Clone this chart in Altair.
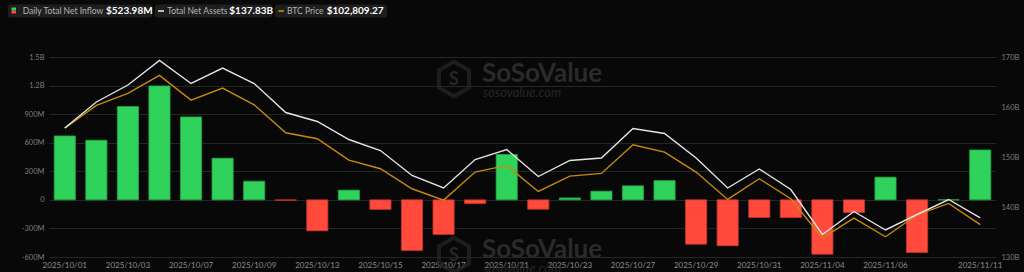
import altair as alt
import pandas as pd

dates = ["2025/10/01", "2025/10/02", "2025/10/03", "2025/10/06", "2025/10/07", "2025/10/08",
         "2025/10/09", "2025/10/10", "2025/10/13", "2025/10/14", "2025/10/15", "2025/10/16",
         "2025/10/17", "2025/10/20", "2025/10/21", "2025/10/22", "2025/10/23", "2025/10/24",
         "2025/10/27", "2025/10/28", "2025/10/29", "2025/10/30", "2025/10/31", "2025/11/03",
         "2025/11/04", "2025/11/05", "2025/11/06", "2025/11/07", "2025/11/10", "2025/11/11"]
inflow_m = [671, 626, 980, 1196, 871, 437, 196, -4.5, -325, 102, -100, -531, -363, -39, 476,
            -98, 20, 91, 147, 202, -465, -482, -185, -186, -570, -133, 238, -552, 1.15, 523.98]
assets_b = [155.8, 161.0, 164.4, 169.3, 164.7, 167.8, 164.7, 158.9, 157.1, 153.5, 151.3, 146.3,
            143.8, 149.5, 151.5, 146.1, 149.3, 149.8, 155.7, 154.7, 149.8, 143.8, 147.6, 143.5,
            134.5, 139.1, 135.4, 138.5, 141.5, 137.83]
btc_price = [117300, 120700, 122500, 125200, 121500, 123300, 120800, 116600, 115700, 112500,
             111200, 108200, 106500, 110700, 111700, 107800, 110100, 110500, 114800, 113700,
             110700, 106600, 109700, 106700, 100800, 103800, 101000, 104300, 106000, 102809.27]
label_dates = ["2025/10/01", "2025/10/03", "2025/10/07", "2025/10/09", "2025/10/13", "2025/10/15",
               "2025/10/17", "2025/10/21", "2025/10/23", "2025/10/27", "2025/10/29", "2025/10/31",
               "2025/11/04", "2025/11/06", "2025/11/11"]
left_ticks = [-600e6, -300e6, 0, 300e6, 600e6, 900e6, 1200e6, 1500e6]
right_ticks = [130, 140, 150, 160, 170]

legend_labels = ["Daily Total Net Inflow", "Total Net Assets", "BTC Price"]
legend_values = ["$523.98M", "$137.83B", "$102,809.27"]

df = pd.DataFrame({
    "date": dates,
    "inflow": [v * 1e6 for v in inflow_m],
    "assets": assets_b,
    "btc": btc_price,
})
one = pd.DataFrame({"k": [0]})

FONT = "Lato"
AX_COL = "#7c7c7c"

base = alt.Chart(df)

x_main = alt.X(
    "date:O", sort=dates, title=None,
    scale=alt.Scale(paddingInner=0.33, paddingOuter=0.165),
    axis=alt.Axis(values=label_dates, labelAngle=0, labelColor="#8c8c8c", labelFontSize=8,
                  labelFont=FONT, ticks=False, domain=False, grid=False, labelPadding=4,
                  labelOverlap=False),
)

left_expr = ("abs(datum.value) >= 1e9 ? format(datum.value/1e9, '.1f') + 'B' : "
             "datum.value == 0 ? '0' : (datum.value < 0 ? '-' : '') + "
             "format(abs(datum.value)/1e6, 'd') + 'M'")

bars = base.mark_bar(strokeWidth=0.8).encode(
    x=x_main,
    y=alt.Y("inflow:Q", title=None,
            scale=alt.Scale(domain=[-600e6, 1500e6], nice=False, zero=False),
            axis=alt.Axis(orient="left", values=left_ticks, labelExpr=left_expr, grid=True,
                          gridColor="#252525", gridWidth=1, domain=False, ticks=False,
                          labelColor=AX_COL, labelFontSize=7.5, labelFont=FONT, labelPadding=5)),
    color=alt.condition("datum.inflow >= 0", alt.value("#2fd25b"), alt.value("#ff4a3c")),
    stroke=alt.condition("datum.inflow >= 0", alt.value("#25a648"), alt.value("#c8352c")),
)

btc_line = base.mark_line(color="#c98a0c", strokeWidth=1.4).encode(
    x=x_main,
    y=alt.Y("btc:Q", title=None,
            scale=alt.Scale(domain=[97964, 127964], nice=False, zero=False), axis=None),
)

assets_line = base.mark_line(color="#e4e4e4", strokeWidth=1.4).encode(
    x=x_main,
    y=alt.Y("assets:Q", title=None,
            scale=alt.Scale(domain=[130, 170], nice=False, zero=False),
            axis=alt.Axis(orient="right", values=right_ticks, labelExpr="datum.value + 'B'",
                          grid=False, domain=False, ticks=False, labelColor=AX_COL,
                          labelFontSize=7.5, labelFont=FONT, labelPadding=5)),
)

hexpath = "M0,-1L0.866,-0.5L0.866,0.5L0,1L-0.866,0.5L-0.866,-0.5Z"


def watermark(dy):
    c = alt.Chart(one)
    hexm = c.mark_point(shape=hexpath, filled=False, stroke="#262626", strokeWidth=4,
                        size=1200).encode(x=alt.value(405), y=alt.value(22 + dy))
    s = c.mark_text(text="S", font=FONT, fontWeight="bold", fontSize=18, color="#262626",
                    baseline="middle", align="center").encode(x=alt.value(405), y=alt.value(23 + dy))
    t1 = c.mark_text(text="SoSoValue", font=FONT, fontWeight="bold", fontSize=26,
                     color="#2a2a2a", align="left", baseline="alphabetic").encode(
        x=alt.value(433), y=alt.value(25 + dy))
    t2 = c.mark_text(text="sosovalue.com", font=FONT, fontSize=13, fontStyle="italic",
                     color="#262626", align="left", baseline="alphabetic").encode(
        x=alt.value(434), y=alt.value(40 + dy))
    return [hexm, s, t1, t2]


def rect(x1, x2, y1, y2, color, r=0):
    return alt.Chart(one).mark_rect(color=color, cornerRadius=r).encode(
        x=alt.value(x1), x2=alt.value(x2), y=alt.value(y1), y2=alt.value(y2))


def text(s, xx, size, color, weight="normal"):
    return alt.Chart(one).mark_text(text=s, font=FONT, fontSize=size, color=color,
                                    fontWeight=weight, align="left", baseline="middle").encode(
        x=alt.value(xx), y=alt.value(-46))


legend = [
    rect(-41, 103, -52.5, -39.5, "#1e1e1e", 2),
    rect(106, 223, -52.5, -39.5, "#1e1e1e", 2),
    rect(226, 338, -52.5, -39.5, "#1e1e1e", 2),
    rect(-37.5, -33, -49.5, -46.5, "#2fd25b"),
    rect(-37.5, -33, -46.5, -43.5, "#ff4a3c"),
    rect(109, 115, -46.8, -45.2, "#e4e4e4"),
    rect(229.5, 235, -46.8, -45.2, "#c98a0c"),
    text(legend_labels[0], -26.3, 8.5, "#b4b4b4"),
    text(legend_values[0], 57, 10, "#ffffff", "bold"),
    text(legend_labels[1], 118.3, 8.5, "#b4b4b4"),
    text(legend_values[1], 180.3, 10, "#ffffff", "bold"),
    text(legend_labels[2], 238, 8.5, "#b4b4b4"),
    text(legend_values[2], 277.7, 10, "#ffffff", "bold"),
]

layers = [bars, btc_line, assets_line] + watermark(0) + watermark(176) + legend

chart = alt.layer(*layers).resolve_scale(y="independent").properties(
    width=947, height=200,
    padding={"left": 49, "top": 57, "right": 28, "bottom": 15},
    autosize=alt.AutoSizeParams(type="none"),
    background="#080808",
).configure_view(stroke=None)

chart.save("out.html", embed_options={"renderer": "svg", "actions": False})
